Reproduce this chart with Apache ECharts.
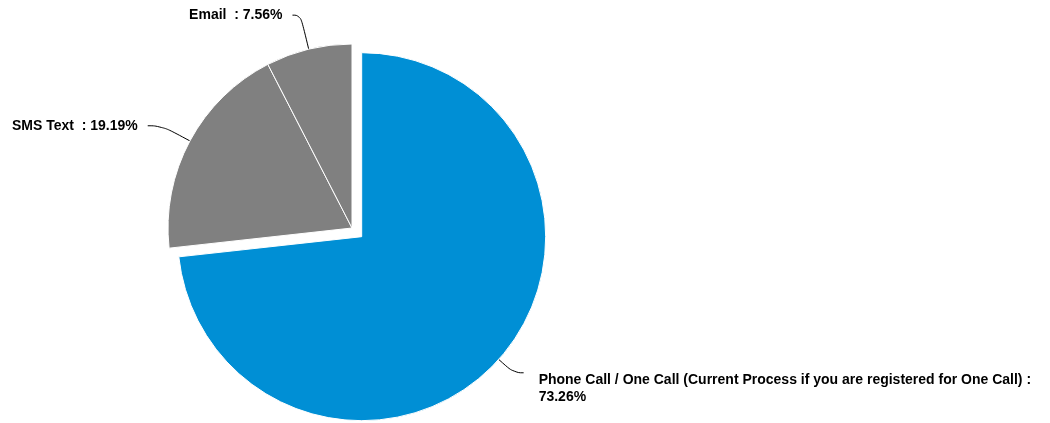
<!DOCTYPE html>
<html>
<head>
<meta charset="utf-8">
<script src="https://cdn.jsdelivr.net/npm/echarts@6/dist/echarts.min.js"></script>
<style>
html,body{margin:0;padding:0;background:#fff;}
#chart{width:1050px;height:423px;}
</style>
</head>
<body>
<div id="chart"></div>
<script>
var categories = ['Phone Call / One Call (Current Process if you are registered for One Call)', 'SMS Text ', 'Email '];
var values = [73.26, 19.19, 7.56];
var colors = ['#008fd5', '#808080', '#808080'];

// per-slice label connector styling
var lineLen = [20, 32, 35];
var lineLen2 = [10, 14, 8];
var labelDist = [15, 10, 10];
var labelShiftY = [16, 0, 0];
var labelBreak = ['\n', ' ', ' '];

var chart = echarts.init(document.getElementById('chart'), null, {renderer: 'canvas'});
var data = categories.map(function (c, i) {
  return {
    name: c,
    value: values[i],
    selected: i === 0,
    itemStyle: {color: colors[i]},
    label: {distanceToLabelLine: labelDist[i]},
    labelLine: {length: lineLen[i], length2: lineLen2[i]}
  };
});
chart.setOption({
  animation: false,
  backgroundColor: '#fff',
  series: [{
    type: 'pie',
    center: [352, 228],
    radius: [0, 184],
    startAngle: 90,
    clockwise: true,
    selectedMode: 'single',
    selectedOffset: 13,
    avoidLabelOverlap: false,
    itemStyle: {borderColor: '#fff', borderWidth: 1},
    emphasis: {disabled: true},
    select: {itemStyle: {borderColor: '#fff', borderWidth: 1}},
    label: {
      show: true,
      formatter: function (p) { return p.name + ' :' + labelBreak[p.dataIndex] + p.value.toFixed(2) + '%'; },
      color: '#000',
      fontFamily: 'Liberation Sans, Arial, sans-serif',
      fontWeight: 'bold',
      fontSize: 14,
      lineHeight: 17
    },
    labelLine: {
      show: true,
      smooth: 0.5,
      lineStyle: {color: '#000', width: 1}
    },
    labelLayout: function (p) {
      return labelShiftY[p.dataIndex] ? {dy: labelShiftY[p.dataIndex]} : {};
    },
    data: data
  }]
});
</script>
</body>
</html>
